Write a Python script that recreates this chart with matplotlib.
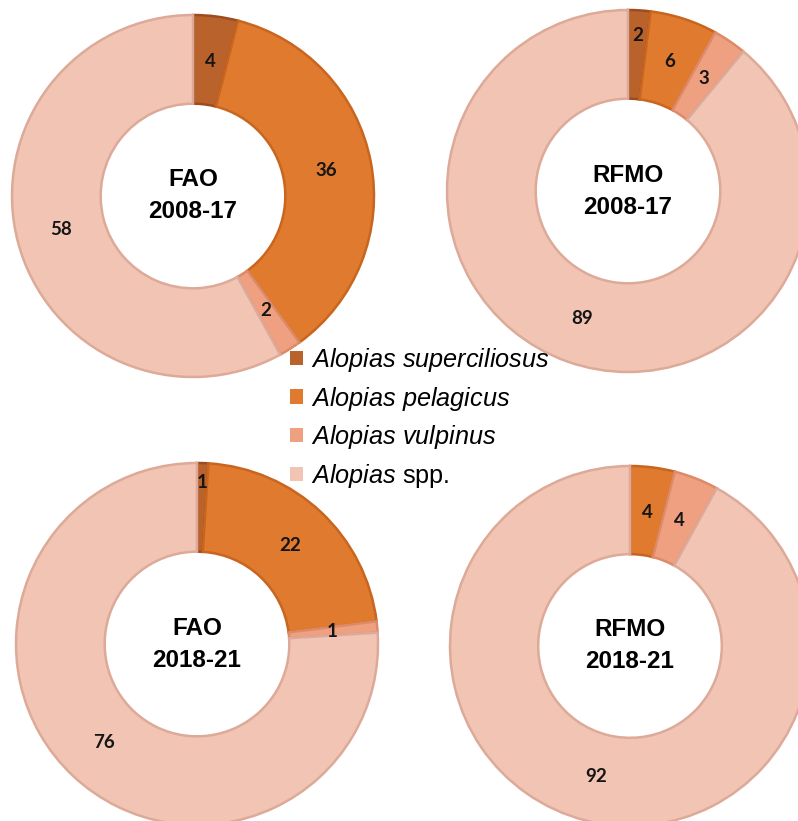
import matplotlib.pyplot as plt
from matplotlib.patches import Patch
import numpy as np

# thresher shark catch shares (%), clockwise from 12 o'clock
species = ["superciliosus", "pelagicus", "vulpinus", "spp."]
fao_2008_17 = [4, 36, 2, 58]
rfmo_2008_17 = [2, 6, 3, 89]
fao_2018_21 = [1, 22, 1, 76]
rfmo_2018_21 = [0, 4, 4, 92]
titles = ["FAO\n2008-17", "RFMO\n2008-17", "FAO\n2018-21", "RFMO\n2018-21"]

fills = ["#b9622b", "#e07a2f", "#eea080", "#f2c4b3"]
edges = ["#9e4c1f", "#c8651f", "#dd8a68", "#ddaa99"]

W, H = 798, 821
# donut centre (px from top-left) and outer radius in px
layout = [(193, 196, 181), (628, 191, 181), (197, 644, 181), (630, 646, 180)]
# tiny wedges at 12 o'clock get their label pushed outward
label_r = {(1, 0): 0.86, (2, 0): 0.89}

plt.rcParams['mathtext.fontset'] = 'custom'
plt.rcParams['mathtext.it'] = 'Liberation Sans:italic'
plt.rcParams['mathtext.rm'] = 'Liberation Sans'

fig = plt.figure(figsize=(W / 100, H / 100), dpi=100)

data = [fao_2008_17, rfmo_2008_17, fao_2018_21, rfmo_2018_21]
for k, (vals, title, (cx, cy, r)) in enumerate(zip(data, titles, layout)):
    ax = fig.add_axes([(cx - r) / W, (H - cy - r) / H, 2 * r / W, 2 * r / H])
    labels = [str(v) if v > 0 else "" for v in vals]
    wedges, texts = ax.pie(vals, labels=labels, colors=fills, startangle=90,
                           counterclock=False, labeldistance=0.75,
                           wedgeprops=dict(width=0.49, linewidth=1.8),
                           textprops=dict(fontfamily="Lato", fontweight="bold",
                                          fontsize=13.5, color="#151515",
                                          ha="center", va="center"))
    for i, w in enumerate(wedges):
        w.set_edgecolor(edges[i])
        if (k, i) in label_r:
            ang = np.deg2rad((w.theta1 + w.theta2) / 2)
            d = label_r[(k, i)]
            texts[i].set_position((d * np.cos(ang), d * np.sin(ang)))
        texts[i].set_ha("center")
    ax.text(0, 0, title, ha="center", va="center", fontsize=17.5,
            fontweight="bold", fontfamily="Liberation Sans", linespacing=1.5)
    ax.set_xlim(-1, 1)
    ax.set_ylim(-1, 1)
    ax.axis("off")

leg_labels = [r"$\mathit{Alopias\ superciliosus}$", r"$\mathit{Alopias\ pelagicus}$",
              r"$\mathit{Alopias\ vulpinus}$", r"$\mathit{Alopias}$ spp."]
handles = [Patch(facecolor=c, edgecolor="none") for c in fills]
fig.legend(handles, leg_labels, loc="upper left", bbox_to_anchor=(290 / W, 1 - 346 / H),
           frameon=False, prop=dict(family="Liberation Sans", size=18.2),
           handlelength=0.5, handleheight=0.5, handletextpad=0.35,
           labelspacing=0.42, borderpad=0, borderaxespad=0)

fig.savefig("out.png", dpi=100, facecolor="white")
